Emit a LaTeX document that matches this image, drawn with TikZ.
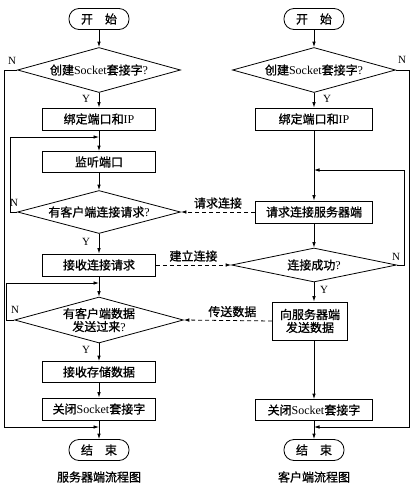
\documentclass[tikz,border=0pt]{standalone}
\usepackage{fontspec}
\setmainfont{Liberation Serif}
\newfontfamily\cjk[FakeBold=1]{Noto Sans CJK SC}
\usetikzlibrary{shapes.geometric,arrows.meta}
\newcommand{\fsz}{\fontsize{12}{13}\selectfont}
\begin{document}
\begin{tikzpicture}[x=1pt,y=-1pt]
\tikzset{
 base/.style={draw, line width=0.8pt, inner sep=0pt, font=\fsz, align=center},
 term/.style={base, rounded corners=10pt, minimum width=60pt, minimum height=21pt},
 box/.style={base, minimum width=113pt, minimum height=22pt},
 dia/.style={base, diamond, aspect=4, minimum width=163pt, minimum height=45pt},
 ln/.style={line width=0.8pt},
 arr/.style={ln, -{Latex[length=5.5pt,width=3.6pt]}},
 dline/.style={arr, dash pattern=on 4pt off 3pt},
 lab/.style={font=\fsz, inner sep=2pt},
 yn/.style={font=\fontsize{11}{12}\selectfont, inner sep=0pt}
}
\useasboundingbox (0,0) rectangle (413,496);
% ---------- server (left) ----------
\node[term] (s1) at (99,19) {\cjk 开\hspace{1em}始};
\node[dia] (d1) at (99,70) {{\cjk 创建}Socket{\cjk 套接字}?};
\node[box] (b1) at (99,119) {{\cjk 绑定端口和}IP};
\node[box, minimum height=21pt] (b2) at (99,162) {\cjk 监听端口};
\node[dia, minimum height=43pt] (d2) at (99,212) {{\cjk 有客户端连接请求}?};
\node[box] (b3) at (99,265) {\cjk 接收连接请求};
\node[dia, minimum height=46pt] (d3) at (99,320) {{\cjk 有客户端数据}\\{\cjk 发送过来}?};
\node[box, minimum height=21pt] (b4) at (99,372) {\cjk 接收存储数据};
\node[box, minimum height=22pt] (b5) at (99,409) {{\cjk 关闭}Socket{\cjk 套接字}};
\node[term] (e1) at (99,450) {\cjk 结\hspace{1em}束};
\node[lab] (c1) at (99,477) {\cjk 服务器端流程图};
\coordinate (j1) at (99,137);
\coordinate (j2) at (99,283);
\coordinate (j3) at (99,427);
\draw[arr] (s1) -- (d1);
\draw[arr] (d1) -- (b1);
\draw[arr] (b1) -- (b2);
\draw[arr] (b2) -- (d2);
\draw[arr] (d2) -- (b3);
\draw[arr] (b3) -- (d3);
\draw[arr] (d3) -- (b4);
\draw[arr] (b4) -- (b5);
\draw[arr] (b5) -- (e1);
\draw[arr] (d2.west) -- ++(-7,0) |- (j1);
\draw[arr] (d3.west) -- ++(-8,0) |- (j2);
\draw[arr] (d1.west) -- ++(-12.5,0) |- (j3);
\node[yn] at (86,99) {Y};
\node[yn] at (86,242) {Y};
\node[yn] at (86,350) {Y};
\node[yn] at (12,61) {N};
\node[yn] at (14,203) {N};
\node[yn] at (15,310) {N};
% ---------- client (right) ----------
\node[term] (s2) at (314,19) {\cjk 开\hspace{1em}始};
\node[dia] (rd1) at (314,70) {{\cjk 创建}Socket{\cjk 套接字}?};
\node[box, minimum width=117pt] (rb1) at (314,119) {{\cjk 绑定端口和}IP};
\node[box, minimum width=117pt] (rb2) at (314,212) {\cjk 请求连接服务器端};
\node[dia, minimum width=165pt, minimum height=34pt] (rd2) at (314,265) {{\cjk 连接成功}?};
\node[box, minimum width=75pt, minimum height=38pt] (rb3) at (310,321) {{\cjk 向服务器端}\\{\cjk 发送数据}};
\node[box, minimum width=117pt, minimum height=21pt] (rb4) at (314,410) {{\cjk 关闭}Socket{\cjk 套接字}};
\node[term] (e2) at (314,450) {\cjk 结\hspace{1em}束};
\node[lab] (c2) at (314,477) {\cjk 客户端流程图};
\coordinate (j4) at (314,170);
\coordinate (j5) at (314,427);
\draw[arr] (s2) -- (rd1);
\draw[arr] (rd1) -- (rb1);
\draw[arr] (rb1) -- (rb2);
\draw[arr] (rb2) -- (rd2);
\draw[arr] (rd2.south) -- (rd2.south |- rb3.north);
\draw[arr] (rb3.south -| rd2.south) -- (rb4.north);
\draw[arr] (rb4) -- (e2);
\draw[arr] (rd2.east) -- ++(7.5,0) |- (j4);
\draw[arr] (rd1.east) -- ++(13.5,0) |- (j5);
\node[yn] at (327,99) {Y};
\node[yn] at (324,290) {Y};
\node[yn] at (402,60) {N};
\node[yn] at (396,257) {N};
% ---------- dashed messages ----------
\draw[dline] (rb2.west) -- (d2.east) node[midway, above, lab, yshift=1pt] {\cjk 请求连接};
\draw[dline] (b3.east) -- (rd2.west) node[midway, above, lab, yshift=1pt] {\cjk 建立连接};
\draw[dline] (rb3.west) -- (d3.east) node[pos=0.45, above, lab, yshift=1pt] {\cjk 传送数据};
\end{tikzpicture}
\end{document}
